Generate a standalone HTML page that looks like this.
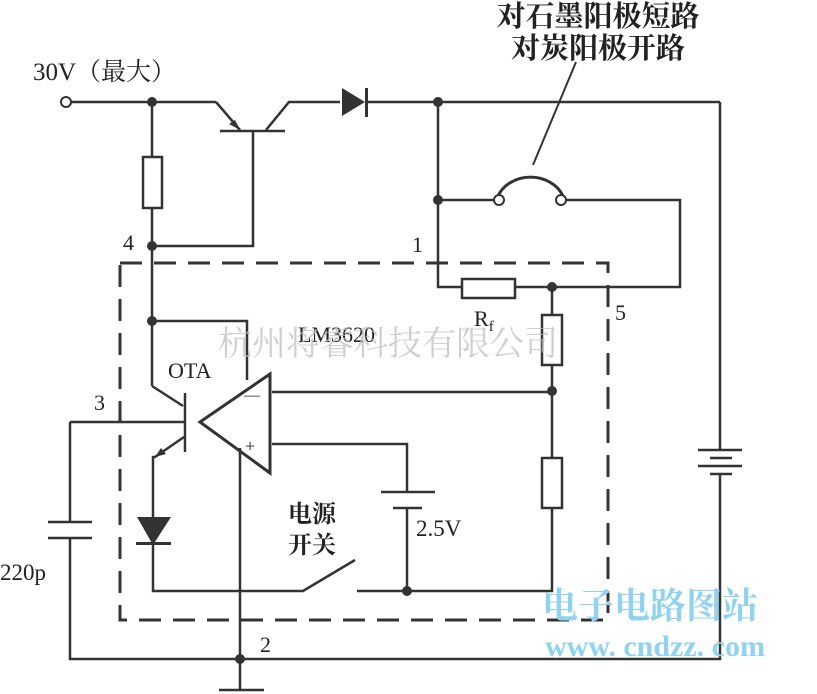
<!DOCTYPE html>
<html><head><meta charset="utf-8"><style>
html,body{margin:0;padding:0;background:#fff;}
svg{display:block}
text{font-family:"Liberation Serif","Noto Serif CJK SC",serif;fill:#222}
</style></head><body>
<svg width="817" height="694" viewBox="0 0 817 694" xmlns="http://www.w3.org/2000/svg">
<g stroke="#333" stroke-width="2.5" fill="none">
<line x1="70" y1="102" x2="216" y2="102"/>
<polyline points="216,102 240,130"/>
<line x1="220" y1="131" x2="285" y2="131"/>
<polyline points="253,131 253,246 152,246"/>
<polyline points="266,130 289,102 340,102"/>
<line x1="368" y1="102" x2="720" y2="102"/>
<polyline points="720,102 720,450"/>
<polyline points="720,474 720,659 70,659 70,538"/>
<line x1="70" y1="522" x2="70" y2="422"/>
<line x1="70" y1="422" x2="185" y2="422"/>
<line x1="152" y1="102" x2="152" y2="157"/>
<line x1="152" y1="208" x2="152" y2="386"/>
<polyline points="152,386 183,406"/>
<polyline points="152,321 247,321 247,380"/>
<line x1="185" y1="393" x2="185" y2="452"/>
<polyline points="184,437 155,457 153,457 153,517"/>
<polyline points="153,545 153,591 303,591 355,560"/>
<polyline points="357,591 552,591 552,508"/>
<polygon points="200,422 270,374 270,473" stroke-width="3"/>
<line x1="240" y1="448" x2="240" y2="690"/>
<line x1="219" y1="690" x2="264" y2="690"/>
<line x1="272" y1="392" x2="552" y2="392"/>
<polyline points="272,444 407,444 407,492"/>
<line x1="381" y1="492" x2="435" y2="492"/>
<line x1="393" y1="508" x2="422" y2="508"/>
<line x1="407" y1="508" x2="407" y2="591"/>
<line x1="552" y1="287" x2="552" y2="315"/>
<rect x="542" y="315" width="20" height="50"/>
<line x1="552" y1="365" x2="552" y2="458"/>
<rect x="542" y="458" width="20" height="50"/>
<polyline points="438,102 438,287 462,287"/>
<rect x="462" y="279" width="53" height="19"/>
<polyline points="515,287 680,287 680,200 566,200"/>
<line x1="438" y1="200" x2="495" y2="200"/>
<path d="M498,196 A35,30 0 0 1 563,196" stroke-width="3"/>
<line x1="533" y1="165" x2="576" y2="62" stroke-width="2"/>
<rect x="143" y="157" width="19" height="51"/>
<line x1="48" y1="522" x2="92" y2="522"/>
<line x1="48" y1="538" x2="92" y2="538"/>
<line x1="698" y1="450" x2="742" y2="450"/>
<line x1="710" y1="458" x2="732" y2="458"/>
<line x1="698" y1="466" x2="742" y2="466"/>
<line x1="710" y1="474" x2="732" y2="474"/>
<rect x="120" y="263" width="488" height="357" stroke-dasharray="22,12" stroke-width="3"/>
</g>
<g fill="#333" stroke="none">
<polygon points="342,88 342,116 365,102"/>
<rect x="365" y="88" width="3" height="29"/>
<polygon points="137,517 171,517 153,545"/>
<rect x="136" y="542" width="35" height="3"/>
<polygon points="240,130 229,124 235,120"/>
<polygon points="155,457 161,448 166,454"/>
<circle cx="152" cy="102" r="5"/><circle cx="438" cy="102" r="5"/>
<circle cx="152" cy="246" r="5"/><circle cx="152" cy="321" r="5"/>
<circle cx="438" cy="200" r="5"/><circle cx="552" cy="287" r="5"/>
<circle cx="552" cy="391" r="5"/><circle cx="407" cy="591" r="5"/>
<circle cx="240" cy="659" r="5"/>
</g>
<g stroke="#333" stroke-width="2" fill="#fff">
<circle cx="66" cy="102" r="5"/>
<circle cx="499" cy="200" r="5"/><circle cx="561" cy="200" r="5"/>
</g>
<text x="33" y="80" font-size="25">30V（最大）</text>
<text x="598" y="26" font-size="29" font-weight="bold" text-anchor="middle">对石墨阳极短路</text>
<text x="598" y="58" font-size="29" font-weight="bold" text-anchor="middle">对炭阳极开路</text>
<text x="123" y="250" font-size="22">4</text>
<text x="412" y="252" font-size="22">1</text>
<text x="615" y="320" font-size="22">5</text>
<text x="260" y="652" font-size="22">2</text>
<text x="94" y="410" font-size="22">3</text>
<text x="168" y="378" font-size="22">OTA</text>
<text x="298" y="342" font-size="22">LM3620</text>
<text x="474" y="326" font-size="22">R<tspan font-size="15" dy="5">f</tspan></text>
<text x="244" y="400" font-size="16">—</text>
<text x="245" y="452" font-size="18">+</text>
<text x="288" y="522" font-size="24" font-weight="bold" font-family="Noto Sans CJK SC,sans-serif">电源</text>
<text x="288" y="553" font-size="24" font-weight="bold" font-family="Noto Sans CJK SC,sans-serif">开关</text>
<text x="416" y="536" font-size="23">2.5V</text>
<text x="0" y="580" font-size="23">220p</text>
<text x="218" y="355" font-size="34" style="fill:#bbb;opacity:0.7">杭州将睿科技有限公司</text>
<text x="542" y="618" font-size="36" font-weight="bold" style="fill:#8fd3ee" font-family="Noto Sans CJK SC,sans-serif">电子电路图站</text>
<text x="545" y="656" font-size="30" font-weight="bold" style="fill:#8fd3ee" font-family="Liberation Sans,sans-serif">www. cndzz. com</text>
</svg>
</body></html>
